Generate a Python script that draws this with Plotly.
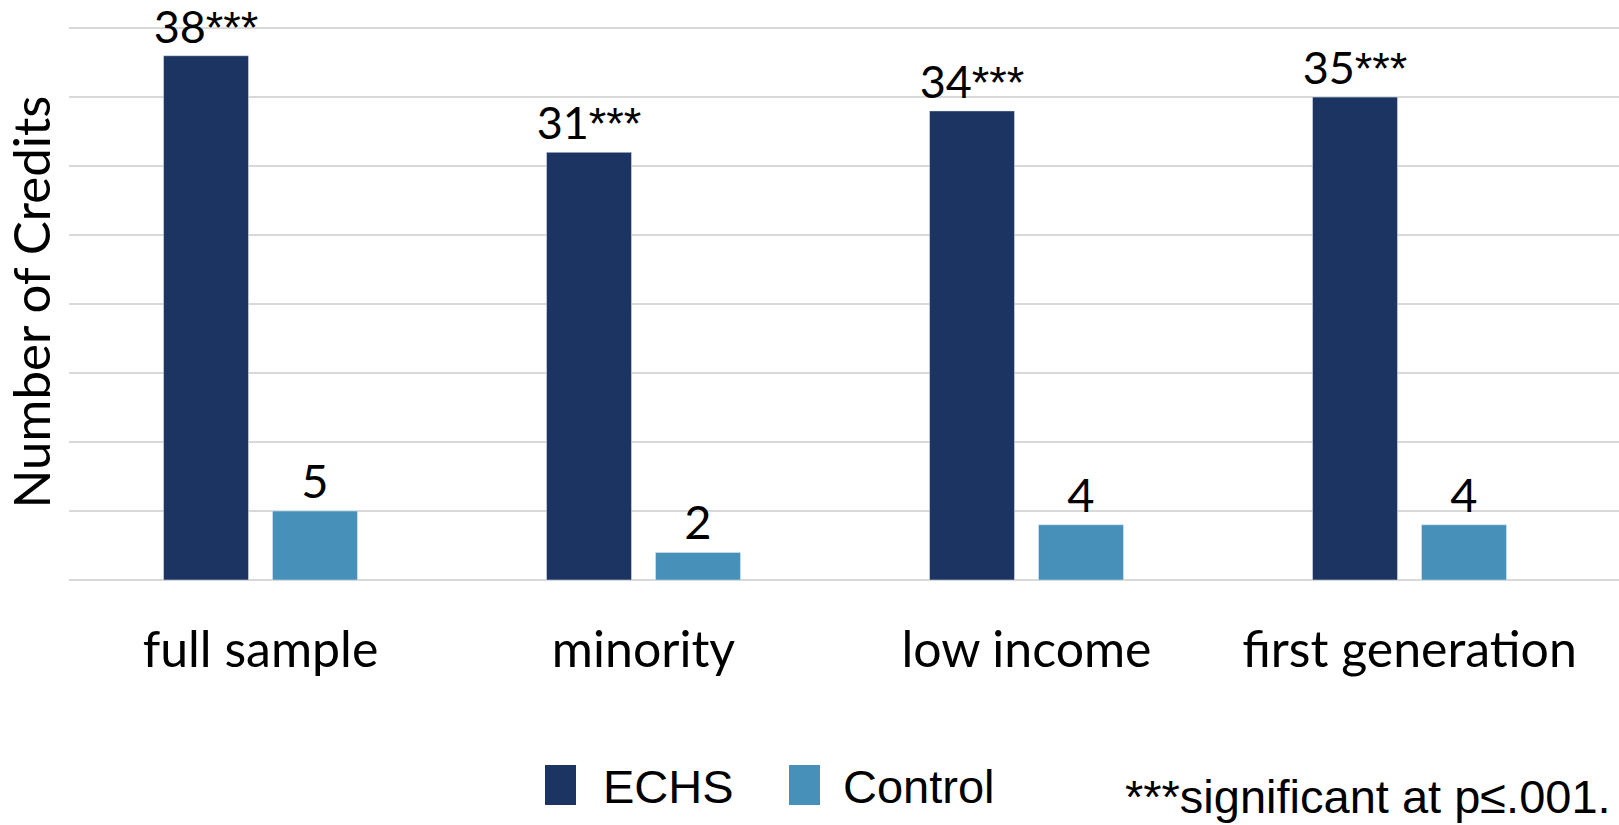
import plotly.graph_objects as go

categories = ["full sample", "minority", "low income", "first generation"]
echs_values = [38, 31, 34, 35]
control_values = [5, 2, 4, 4]
significance = ["***", "***", "***", "***"]
series_names = ["ECHS", "Control"]
colors = ["#1c3461", "#4690b9"]
footnote = "***significant at p≤.001."

W, H = 1619, 825
ML, MR, MT, MB = 69, 0, 24, 245
PH = H - MT - MB
PW = W - ML - MR

def px_to_paper_x(px):
    return (px - ML) / PW

def px_to_paper_y(py):
    return (H - MB - py) / PH

echs_text = [f"{v}<span style='font-family:Liberation Sans'>{s}</span>" for v, s in zip(echs_values, significance)]
control_text = [str(v) for v in control_values]

fig = go.Figure()
fig.add_trace(go.Bar(x=categories, y=echs_values, name=series_names[0], marker_color=colors[0],
                     text=echs_text, textposition="outside", cliponaxis=False, constraintext="none",
                     textfont=dict(family="Lato", size=45, color="black"), showlegend=False))
fig.add_trace(go.Bar(x=categories, y=control_values, name=series_names[1], marker_color=colors[1],
                     text=control_text, textposition="outside", cliponaxis=False, constraintext="none",
                     textfont=dict(family="Lato", size=47, color="black"), showlegend=False))

fig.update_layout(
    width=W, height=H,
    margin=dict(l=ML, r=MR, t=MT, b=MB),
    plot_bgcolor="white", paper_bgcolor="white",
    barmode="group", bargap=0.431, bargroupgap=0.22,
    xaxis=dict(range=[-0.5, 3.547], showgrid=False, showline=False, ticks="",
               tickfont=dict(family="Lato", size=50, color="black"), ticklabelstandoff=36),
    yaxis=dict(range=[0, 40.3], tickvals=[0, 5, 10, 15, 20, 25, 30, 35, 40], showticklabels=False,
               gridcolor="#d9d9d9", gridwidth=1.5,
               zeroline=True, zerolinecolor="#d9d9d9", zerolinewidth=1.5,
               title=dict(text="Number of Credits", font=dict(family="Lato", size=51, color="black"), standoff=4)),
    showlegend=False,
)

# manual legend
legend_items = [(545, 601, series_names[0], colors[0]), (789, 841, series_names[1], colors[1])]
for sx, tx, name, col in legend_items:
    fig.add_shape(type="rect", xref="paper", yref="paper",
                  x0=px_to_paper_x(sx), x1=px_to_paper_x(sx + 31),
                  y0=px_to_paper_y(805), y1=px_to_paper_y(765),
                  fillcolor=col, line_width=0)
    fig.add_annotation(xref="paper", yref="paper", x=px_to_paper_x(tx), y=px_to_paper_y(786),
                       text=name, showarrow=False, xanchor="left", yanchor="middle",
                       font=dict(family="Liberation Sans", size=47, color="black"))

fig.add_annotation(xref="paper", yref="paper", x=px_to_paper_x(1613), y=px_to_paper_y(796),
                   text=footnote, showarrow=False, xanchor="right", yanchor="middle",
                   font=dict(family="Liberation Sans", size=47, color="black"))

fig.write_html("out.html")
